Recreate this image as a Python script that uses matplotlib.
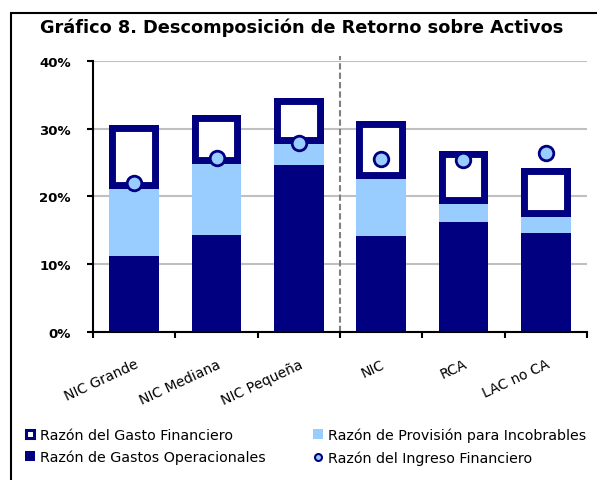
import matplotlib
matplotlib.use('Agg')
import matplotlib.pyplot as plt
from matplotlib.lines import Line2D
from matplotlib.patches import Rectangle
import numpy as np

plt.rcParams['font.family'] = ['DejaVu Sans']

categorias = ['NIC Grande', 'NIC Mediana', 'NIC Pequeña', 'NIC', 'RCA', 'LAC no CA']
gastos_operacionales = [11.1, 14.2, 24.6, 14.1, 16.2, 14.5]
provision_incobrables = [10.0, 10.5, 3.1, 8.4, 2.6, 2.4]
gasto_financiero = [9.4, 7.3, 6.8, 8.6, 7.9, 7.3]
ingreso_financiero = [22.0, 25.7, 27.9, 25.5, 25.3, 26.4]

NAVY = '#000080'
LIGHT = '#99CCFF'

fig = plt.figure(figsize=(5.97, 4.81), dpi=100)
ax = fig.add_axes([0.1558, 0.3087, 0.8274, 0.5624])

x = np.arange(len(categorias))
go = np.array(gastos_operacionales)
prov = np.array(provision_incobrables)
gf = np.array(gasto_financiero)

ax.bar(x, go, 0.6, color=NAVY, zorder=2)
ax.bar(x, prov, 0.6, bottom=go, color=LIGHT, zorder=2)
cajas = ax.bar(x, gf, 0.6, bottom=go + prov, facecolor='white',
               edgecolor=NAVY, linewidth=10, zorder=3)
# borde solo hacia dentro de la barra
for c in cajas:
    c.set_clip_path(c)
ax.plot(x, ingreso_financiero, 'o', ms=10.5, mfc=LIGHT, mec=NAVY, mew=2,
        zorder=4, clip_on=False)

ax.set_xlim(-0.5, 5.5)
ax.set_ylim(0, 40)
ax.set_yticks(range(0, 41, 10))
ax.set_yticklabels(['%d%%' % v for v in range(0, 41, 10)], fontweight='bold')
ax.yaxis.grid(True, color='#c0c0c0', lw=1.5)
ax.set_axisbelow(True)
ax.axvline(2.5, ymin=0, ymax=1.02, color='#808080', ls=(0, (3, 1.5)), lw=1.5,
           clip_on=False, zorder=1)

for s in ['top', 'right']:
    ax.spines[s].set_visible(False)
for s in ['left', 'bottom']:
    ax.spines[s].set_linewidth(1.5)

ax.tick_params(axis='y', length=4, width=1.5, pad=12, labelsize=9.5)
ax.set_xticks(x)
ax.set_xticklabels(categorias, rotation=25, ha='right', va='top',
                   rotation_mode='anchor')
ax.set_xticks(np.arange(-0.5, 6, 1), minor=True)
ax.tick_params(axis='x', which='major', length=0, pad=18, labelsize=10)
ax.tick_params(axis='x', which='minor', length=4, width=1.5)

fig.text(40 / 597, 1 - 33 / 481, 'Gráfico 8. Descomposición de Retorno sobre Activos',
         fontsize=12.8, fontweight='bold', va='baseline', ha='left')

fig.add_artist(Rectangle((11 / 597, -0.05), 1.0, 1 - 14 / 481 + 0.05,
                         transform=fig.transFigure, fill=False, ec='black', lw=1.5))

h_gf = Line2D([], [], ls='none', marker='s', ms=5.5, mfc='white', mec=NAVY, mew=2.2)
h_go = Line2D([], [], ls='none', marker='s', ms=7.5, mfc=NAVY, mec=NAVY, mew=0)
h_prov = Line2D([], [], ls='none', marker='s', ms=7.5, mfc=LIGHT, mec=LIGHT, mew=0)
h_ing = Line2D([], [], ls='none', marker='o', ms=5, mfc=LIGHT, mec=NAVY, mew=1.5)

opts = dict(loc='upper left', frameon=False, fontsize=10.3, handlelength=0.75,
            handletextpad=0.3, borderpad=0, borderaxespad=0, labelspacing=0.55)
fig.legend([h_gf, h_go], ['Razón del Gasto Financiero', 'Razón de Gastos Operacionales'],
           bbox_to_anchor=(25 / 597, 1 - 429 / 481), **opts)
fig.legend([h_prov, h_ing], ['Razón de Provisión para Incobrables', 'Razón del Ingreso Financiero'],
           bbox_to_anchor=(313 / 597, 1 - 429 / 481), **opts)

fig.savefig('out.png', dpi=100)
